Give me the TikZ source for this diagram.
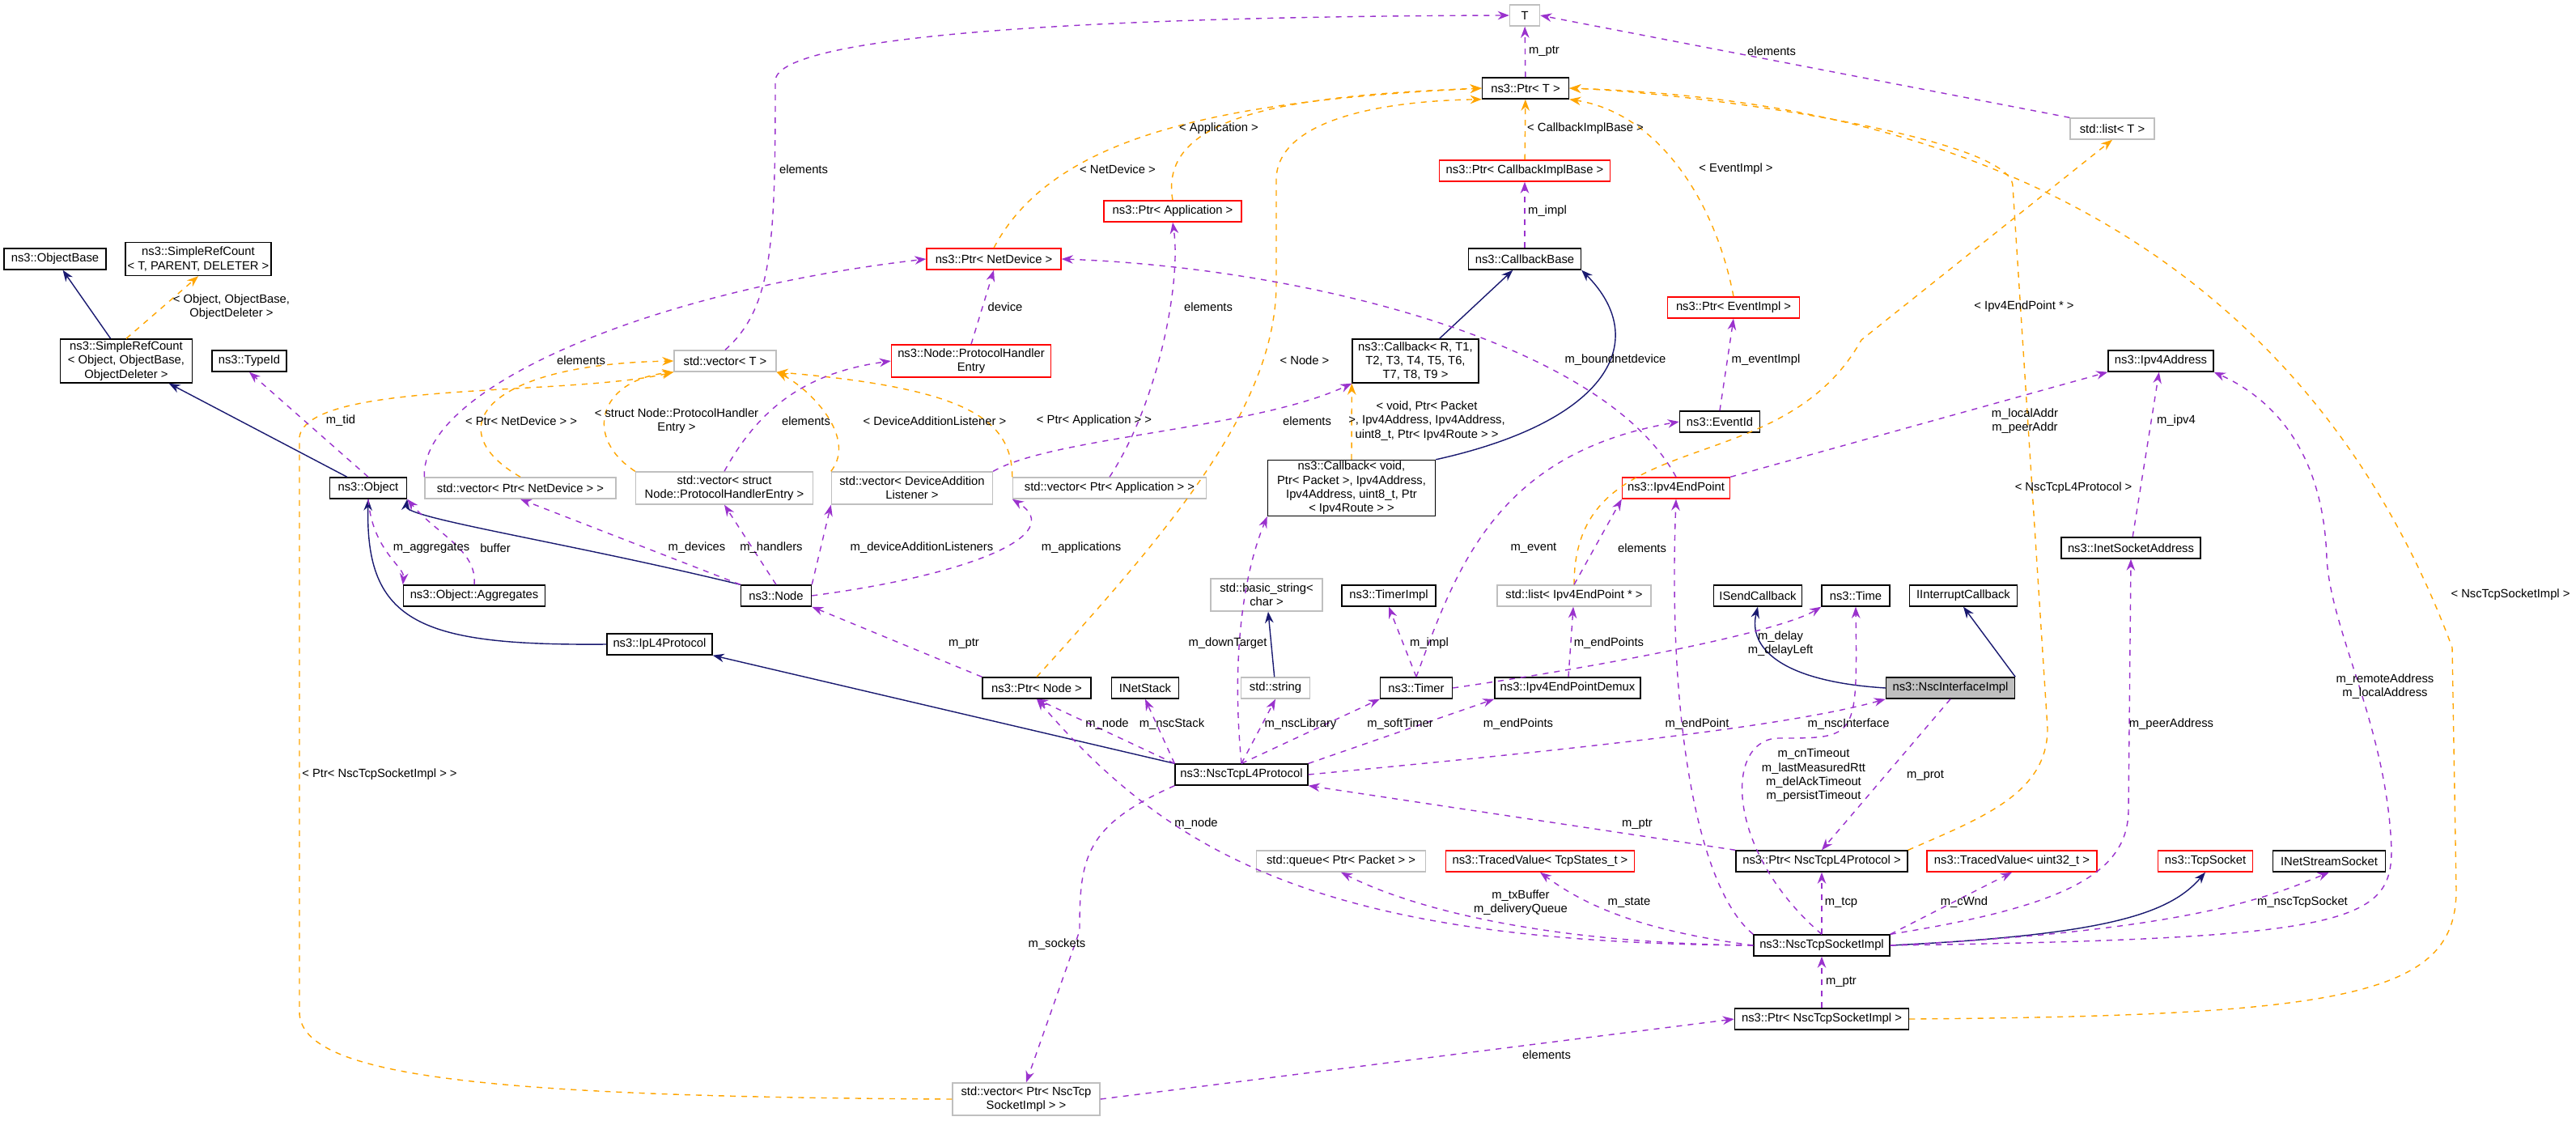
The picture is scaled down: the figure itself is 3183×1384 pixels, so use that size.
\documentclass[tikz,border=0pt]{standalone}
\usepackage{fontspec}
\setmainfont{Liberation Sans}
\usetikzlibrary{arrows.meta}
\definecolor{usecol}{HTML}{9A32CD}
\definecolor{tplcol}{HTML}{FFA500}
\definecolor{inhcol}{HTML}{191970}
\definecolor{extcol}{HTML}{BFBFBF}
\tikzset{
  box/.style={rectangle, inner sep=0pt, align=center, minimum height=0.26cm, font=\fontsize{4.2}{4.9}\selectfont, line width=0.4pt},
  cls/.style={box, draw=black},
  ext/.style={box, draw=extcol},
  redbox/.style={box, draw=red},
  focus/.style={box, draw=black, fill=extcol},
  bw/.style={minimum width=#1*0.01cm},
  bh/.style={minimum height=#1*0.01cm},
  use/.style={draw=usecol, line width=0.4pt, dash pattern=on 2pt off 2pt, -{Stealth[length=4pt,width=3pt]}},
  tmpl/.style={draw=tplcol, line width=0.4pt, dash pattern=on 2pt off 2pt, -{Stealth[length=4pt,width=3pt]}},
  inh/.style={draw=inhcol, line width=0.4pt, -{Stealth[length=4pt,width=3pt]}},
  lbl/.style={font=\fontsize{4.2}{4.9}\selectfont, align=center, inner sep=0pt}
}
\begin{document}
\begin{tikzpicture}[x=0.01cm, y=-0.01cm]
\useasboundingbox (0,0) rectangle (3183,1384);
% classes
\node[cls, bw=126] (objbase) at (68,320) {ns3::ObjectBase};
\node[cls, bw=180, bh=41] (srct) at (245,320) {ns3::SimpleRefCount\\< T, PARENT, DELETER >};
\node[cls, bw=163, bh=54] (srcobj) at (156,446) {ns3::SimpleRefCount\\< Object, ObjectBase,\\ObjectDeleter >};
\node[cls, bw=92] (typeid) at (308,446) {ns3::TypeId};
\node[cls, bw=95] (object) at (455,603) {ns3::Object};
\node[ext, bw=236] (vnetdev) at (643,603) {std::vector< Ptr< NetDevice > >};
\node[ext, bw=219, bh=40] (vhandler) at (895,603) {std::vector< struct\\Node::ProtocolHandlerEntry >};
\node[ext, bw=199, bh=40] (vlistener) at (1127,603) {std::vector< DeviceAddition\\Listener >};
\node[ext, bw=239] (vapp) at (1371,603) {std::vector< Ptr< Application > >};
\node[ext, bw=126] (vect) at (896,446) {std::vector< T >};
\node[redbox, bw=197, bh=40] (handler) at (1200,446) {ns3::Node::ProtocolHandler\\Entry};
\node[redbox, bw=166] (pnetdev) at (1228,320) {ns3::Ptr< NetDevice >};
\node[redbox, bw=170] (papp) at (1449,261) {ns3::Ptr< Application >};
\node[cls, bw=175] (aggr) at (586,736) {ns3::Object::Aggregates};
\node[cls, bw=87] (node) at (959,736) {ns3::Node};
\node[cls, bw=130] (ipl4) at (815,796) {ns3::IpL4Protocol};
\node[cls, bw=134] (pnode) at (1281,850) {ns3::Ptr< Node >};
\node[cls, bw=83] (netstack) at (1415,850) {INetStack};
\node[cls, bw=164] (nsctcp) at (1534,957) {ns3::NscTcpL4Protocol};
\node[ext, bw=182, bh=40] (vsock) at (1268,1358) {std::vector< Ptr< NscTcp\\SocketImpl > >};
\node[ext, bw=138, bh=40] (bstring) at (1565,735) {std::basic\_string<\\char >};
\node[ext, bw=85] (string) at (1576,850) {std::string};
\node[cls, bw=116] (timerimpl) at (1716,736) {ns3::TimerImpl};
\node[ext, bw=190] (lendp) at (1945,736) {std::list< Ipv4EndPoint * >};
\node[cls, bw=109] (sendcb) at (2172,736) {ISendCallback};
\node[cls, bw=84] (time) at (2293,736) {ns3::Time};
\node[cls, bw=133] (intcb) at (2426,736) {IInterruptCallback};
\node[cls, bw=89] (timer) at (1750,850) {ns3::Timer};
\node[cls, bw=180] (demux) at (1937,850) {ns3::Ipv4EndPointDemux};
\node[focus, bw=159] (nscif) at (2410,850) {ns3::NscInterfaceImpl};
\node[cls, bw=212] (ptcp) at (2251,1064) {ns3::Ptr< NscTcpL4Protocol >};
\node[ext, bw=209] (queue) at (1657,1064) {std::queue< Ptr< Packet > >};
\node[redbox, bw=233] (tvstate) at (1903,1064) {ns3::TracedValue< TcpStates\_t >};
\node[redbox, bw=210] (tvuint) at (2486,1064) {ns3::TracedValue< uint32\_t >};
\node[redbox, bw=117] (tcpsock) at (2725,1064) {ns3::TcpSocket};
\node[cls, bw=139] (streamsock) at (2878,1064) {INetStreamSocket};
\node[cls, bw=168] (sockimpl) at (2251,1168) {ns3::NscTcpSocketImpl};
\node[cls, bw=215] (psock) at (2251,1259) {ns3::Ptr< NscTcpSocketImpl >};
\node[ext, bw=37] (t) at (1884,19) {T};
\node[cls, bw=107] (ptrt) at (1885,109) {ns3::Ptr< T >};
\node[ext, bw=104] (listt) at (2610,159) {std::list< T >};
\node[redbox, bw=211] (pcbimpl) at (1884,211) {ns3::Ptr< CallbackImplBase >};
\node[cls, bw=139] (cbbase) at (1884,320) {ns3::CallbackBase};
\node[redbox, bw=163] (pevent) at (2142,380) {ns3::Ptr< EventImpl >};
\node[cls, bw=156, bh=54] (cbr) at (1749,446) {ns3::Callback< R, T1,\\T2, T3, T4, T5, T6,\\T7, T8, T9 >};
\node[cls, bw=207, bh=69] (cbvoid) at (1670,603) {ns3::Callback< void,\\Ptr< Packet >, Ipv4Address,\\Ipv4Address, uint8\_t, Ptr\\< Ipv4Route > >};
\node[cls, bw=99] (eventid) at (2125,521) {ns3::EventId};
\node[redbox, bw=133] (endp) at (2071,603) {ns3::Ipv4EndPoint};
\node[cls, bw=130] (ipv4) at (2670,446) {ns3::Ipv4Address};
\node[cls, bw=172] (inet) at (2633,677) {ns3::InetSocketAddress};
% inheritance
\draw[inh] (srcobj) -- (objbase);
\draw[inh] (object) -- (srcobj);
\draw[inh] (node.north west) .. controls (700,670) and (500,640) .. (object.south east);
\draw[inh] (ipl4.west) .. controls (520,798) and (451,770) .. (object.south);
\draw[inh] (nsctcp.north west) -- (ipl4.south east);
\draw[inh] (cbvoid.north east) .. controls (1990,520) and (2040,420) .. (cbbase.south east);
\draw[inh] (cbr) -- (cbbase);
\draw[inh] (string) -- (bstring);
\draw[inh] (nscif.west) .. controls (2200,842) and (2160,800) .. (sendcb.south);
\draw[inh] (nscif.north east) -- (intcb.south);
\draw[inh] (sockimpl.east) .. controls (2600,1155) and (2680,1130) .. (tcpsock.south);
% templates
\draw[tmpl] (srcobj.north) -- (srct.south);
\draw[tmpl] (vnetdev.north) .. controls (540,530) and (600,450) .. (vect.west);
\draw[tmpl] (vhandler.north west) .. controls (720,540) and (740,470) .. (vect.south west);
\draw[tmpl] (vlistener.north west) .. controls (1060,540) and (1000,480) .. (vect.south east);
\draw[tmpl] (vapp.north west) .. controls (1250,520) and (1200,480) .. (vect.south east);
\draw[tmpl] (vsock.west) .. controls (600,1355) and (370,1330) .. (370,1250) -- (370,540) .. controls (380,470) and (700,490) .. (vect.south west);
\draw[tmpl] (pnetdev.north) .. controls (1300,170) and (1500,125) .. (ptrt.west);
\draw[tmpl] (papp.north) .. controls (1430,140) and (1600,118) .. (ptrt.west);
\draw[tmpl] (pnode.north) .. controls (1450,650) and (1577,500) .. (1577,350) -- (1577,220) .. controls (1580,150) and (1700,125) .. (ptrt.south west);
\draw[tmpl] (pcbimpl) -- (ptrt);
\draw[tmpl] (pevent.north) .. controls (2120,250) and (2050,140) .. (ptrt.south east);
\draw[tmpl] (ptcp.north east) .. controls (2450,1010) and (2530,980) .. (2530,900) -- (2487,230) .. controls (2487,170) and (2100,115) .. (ptrt.east);
\draw[tmpl] (psock.east) .. controls (2900,1255) and (3035,1230) .. (3035,1100) -- (3030,800) .. controls (2900,450) and (2600,130) .. (ptrt.east);
\draw[tmpl] (lendp.north) .. controls (1945,520) and (2200,600) .. (2300,420) -- (listt.south);
\draw[tmpl] (cbvoid.north) -- (cbr.south west);
% usage
\draw[use] (vect.north) .. controls (955,380) and (958,300) .. (958,100) .. controls (958,40) and (1400,20) .. (t.west);
\draw[use] (ptrt) -- (t);
\draw[use] (listt.north west) -- (t.east);
\draw[use] (cbbase) -- (pcbimpl);
\draw[use] (eventid.north) -- (pevent.south);
\draw[use] (object.north) -- (typeid.south);
\draw[use] (object.south) .. controls (460,680) and (500,700) .. (aggr.north west);
\draw[use] (aggr.north) .. controls (590,680) and (540,660) .. (object.south east);
\draw[use] (vnetdev.north west) .. controls (520,480) and (800,360) .. (pnetdev.west);
\draw[use] (handler.north) -- (pnetdev.south);
\draw[use] (vhandler.north) .. controls (940,500) and (1000,460) .. (handler.west);
\draw[use] (vapp.north) .. controls (1430,500) and (1460,350) .. (papp.south);
\draw[use] (vlistener.north east) .. controls (1300,540) and (1550,530) .. (cbr.south west);
\draw[use] (node.north west) -- (vnetdev.south);
\draw[use] (node.north) -- (vhandler.south);
\draw[use] (node.north east) -- (vlistener.south west);
\draw[use] (node.east) .. controls (1200,710) and (1320,660) .. (vapp.south west);
\draw[use] (pnode.north west) -- (node.south east);
\draw[use] (endp.north) .. controls (1980,420) and (1600,330) .. (pnetdev.east);
\draw[use] (endp.north east) -- (ipv4.south west);
\draw[use] (nsctcp.north) .. controls (1520,800) and (1540,700) .. (cbvoid.south west);
\draw[use] (timer.north) .. controls (1800,700) and (1850,560) .. (eventid.west);
\draw[use] (timer.north) -- (timerimpl.south);
\draw[use] (timer.east) .. controls (2000,820) and (2200,780) .. (time.south west);
\draw[use] (lendp.north) -- (endp.south west);
\draw[use] (demux) -- (lendp);
\draw[use] (inet) -- (ipv4);
\draw[use] (nsctcp.north west) -- (pnode.south);
\draw[use] (nsctcp.north west) -- (netstack.south);
\draw[use] (nsctcp.north) -- (string.south);
\draw[use] (nsctcp.north) -- (timer.south west);
\draw[use] (nsctcp.north east) -- (demux.south west);
\draw[use] (nsctcp.east) .. controls (1900,930) and (2200,900) .. (nscif.south west);
\draw[use] (nsctcp.south west) .. controls (1340,1020) and (1334,1060) .. (1334,1150) -- (vsock.north);
\draw[use] (nscif.south) -- (ptcp.north);
\draw[use] (ptcp.north west) -- (nsctcp.south east);
\draw[use] (sockimpl.west) .. controls (1640,1165) and (1450,1060) .. (pnode.south);
\draw[use] (sockimpl.north west) .. controls (2100,1100) and (2060,900) .. (endp.south);
\draw[use] (sockimpl.north) .. controls (2130,1050) and (2130,910) .. (2200,912) .. controls (2295,912) .. (time.south);
\draw[use] (sockimpl.west) .. controls (1900,1165) and (1740,1120) .. (queue.south);
\draw[use] (sockimpl.west) .. controls (2030,1150) and (1960,1120) .. (tvstate.south);
\draw[use] (sockimpl) -- (ptcp);
\draw[use] (sockimpl.north east) -- (tvuint.south);
\draw[use] (sockimpl.east) .. controls (2700,1150) and (2800,1110) .. (streamsock.south);
\draw[use] (sockimpl.north east) .. controls (2550,1120) and (2630,1080) .. (2630,1000) -- (inet.south);
\draw[use] (sockimpl.east) .. controls (2900,1160) and (2955,1140) .. (2955,1050) .. controls (2950,900) and (2880,780) .. (2875,690) .. controls (2870,530) and (2780,480) .. (ipv4.south east);
\draw[use] (psock) -- (sockimpl);
\draw[use] (vsock.east) -- (psock.west);
% labels
\node[lbl] at (993,209) {elements};
\node[lbl] at (1381,209) {< NetDevice >};
\node[lbl] at (1506,159) {< Application >};
\node[lbl] at (286,379) {< Object, ObjectBase,\\ObjectDeleter >};
\node[lbl] at (1242,379) {device};
\node[lbl] at (1493,379) {elements};
\node[lbl] at (718,445) {elements};
\node[lbl] at (421,520) {m\_tid};
\node[lbl] at (644,520) {< Ptr< NetDevice > >};
\node[lbl] at (836,520) {< struct Node::ProtocolHandler\\Entry >};
\node[lbl] at (996,520) {elements};
\node[lbl] at (1155,520) {< DeviceAdditionListener >};
\node[lbl] at (1352,520) {< Ptr< Application > >};
\node[lbl] at (533,677) {m\_aggregates};
\node[lbl] at (612,677) {buffer};
\node[lbl] at (861,677) {m\_devices};
\node[lbl] at (953,677) {m\_handlers};
\node[lbl] at (1139,677) {m\_deviceAdditionListeners};
\node[lbl] at (1336,677) {m\_applications};
\node[lbl] at (1191,795) {m\_ptr};
\node[lbl] at (1517,795) {m\_downTarget};
\node[lbl] at (469,957) {< Ptr< NscTcpSocketImpl > >};
\node[lbl] at (1368,895) {m\_node};
\node[lbl] at (1448,895) {m\_nscStack};
\node[lbl] at (1478,1018) {m\_node};
\node[lbl] at (1306,1167) {m\_sockets};
\node[lbl] at (1908,63) {m\_ptr};
\node[lbl] at (2189,63) {elements};
\node[lbl] at (1959,159) {< CallbackImplBase >};
\node[lbl] at (2145,209) {< EventImpl >};
\node[lbl] at (1912,261) {m\_impl};
\node[lbl] at (1612,445) {< Node >};
\node[lbl] at (1996,445) {m\_boundnetdevice};
\node[lbl] at (2182,445) {m\_eventImpl};
\node[lbl] at (2501,379) {< Ipv4EndPoint * >};
\node[lbl] at (1763,520) {< void, Ptr< Packet\\>, Ipv4Address, Ipv4Address,\\uint8\_t, Ptr< Ipv4Route > >};
\node[lbl] at (1615,520) {elements};
\node[lbl] at (2502,520) {m\_localAddr\\m\_peerAddr};
\node[lbl] at (2689,520) {m\_ipv4};
\node[lbl] at (1895,677) {m\_event};
\node[lbl] at (2029,677) {elements};
\node[lbl] at (2562,603) {< NscTcpL4Protocol >};
\node[lbl] at (1766,795) {m\_impl};
\node[lbl] at (1988,795) {m\_endPoints};
\node[lbl] at (2200,795) {m\_delay\\m\_delayLeft};
\node[lbl] at (3102,735) {< NscTcpSocketImpl >};
\node[lbl] at (2947,848) {m\_remoteAddress\\m\_localAddress};
\node[lbl] at (1607,895) {m\_nscLibrary};
\node[lbl] at (1730,895) {m\_softTimer};
\node[lbl] at (1876,895) {m\_endPoints};
\node[lbl] at (2097,895) {m\_endPoint};
\node[lbl] at (2284,895) {m\_nscInterface};
\node[lbl] at (2683,895) {m\_peerAddress};
\node[lbl] at (2241,958) {m\_cnTimeout\\m\_lastMeasuredRtt\\m\_delAckTimeout\\m\_persistTimeout};
\node[lbl] at (2379,958) {m\_prot};
\node[lbl] at (2023,1018) {m\_ptr};
\node[lbl] at (1879,1115) {m\_txBuffer\\m\_deliveryQueue};
\node[lbl] at (2013,1115) {m\_state};
\node[lbl] at (2275,1115) {m\_tcp};
\node[lbl] at (2427,1115) {m\_cWnd};
\node[lbl] at (2845,1115) {m\_nscTcpSocket};
\node[lbl] at (2275,1213) {m\_ptr};
\node[lbl] at (1911,1303) {elements};
\end{tikzpicture}
\end{document}
